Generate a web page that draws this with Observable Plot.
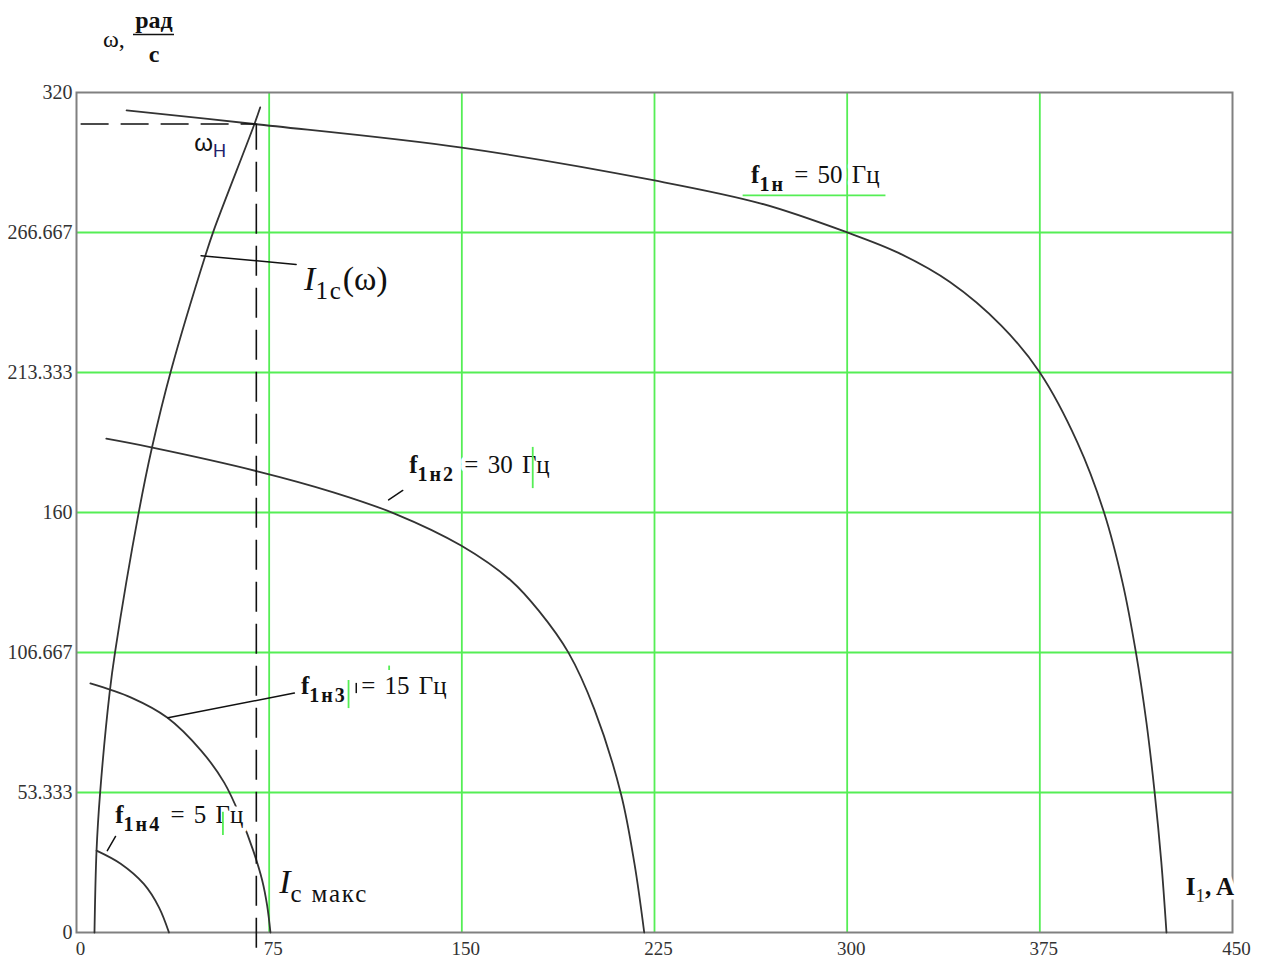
<!DOCTYPE html>
<html>
<head>
<meta charset="utf-8">
<script src="https://cdn.jsdelivr.net/npm/d3@7"></script>
<script src="https://cdn.jsdelivr.net/npm/@observablehq/plot@0.6"></script>
<style>
  body { margin: 0; background: #fff; }
  #chart svg { display: block; }
</style>
</head>
<body>
<div id="chart"></div>
<script>
// Mechanical characteristics ω(I1) of the frequency-controlled drive
// Points are [I1, A ; ω, rad/s]
const curve50 = [[19.5,313.2],[69.2,308.0],[150,299.0],[225,286.5],[266.5,277.7],[300,266.7],[320,258.9],[340,247.8],[360,231.2],[375,213.3],[389.6,186.7],[400,160],[407.2,133.3],[412.4,106.7],[416.5,80.0],[419.7,53.3],[422.3,26.7],[424.3,0]];
const curve30 = [[11.6,188.1],[29.1,184.8],[70.4,175.7],[100,167.7],[123.8,159.6],[149.7,147.4],[169.2,134.0],[180,122.5],[191.5,106.6],[201.6,85.0],[212,52.6],[217.2,26.2],[221.0,0]];
const curve15 = [[5.4,94.9],[21.3,89.5],[35.3,81.9],[48.5,69.3],[57.5,57.1],[64.1,43.4],[68.8,31.2],[72.3,19.8],[74.2,10.3],[75.5,0]];
const curve5  = [[7.8,31.2],[17.2,26.2],[26.2,18.5],[32.1,9.6],[36.0,0]];
// load current I1c(ω)
const currentCurve = [[7.0,0],[7.8,31.2],[9.2,53.3],[12.9,91.4],[15.0,106.7],[24.3,160.4],[29.3,184.4],[36.8,214.1],[50.3,258.3],[53.4,267.4],[69.2,307.8],[71.5,314.3]];

const omegaNom = 308;    // ωн
const currentMax = 70;   // Iс макс

const xTicks = [0, 75, 150, 225, 300, 375, 450];
const yTicks = [0, 160/3, 320/3, 160, 640/3, 800/3, 320];
const yTickLabels = ["0", "53.333", "106.667", "160", "213.333", "266.667", "320"];

// leader lines from the captions to their curves
const leaders = [
  {id: "I1c", pts: [[48.5,257.8],[85.5,254.5]]},
  {id: "f30", pts: [[121.5,164.8],[127.0,168.4]]},
  {id: "f15", pts: [[35.6,81.8],[84.8,91.2]]},
  {id: "f5",  pts: [[12.0,31.2],[15.2,36.6]]}
];

// captions: text runs ["text", flags] — b bold, i italic, s subscript
const freqCaptions = [
  {I: 262.6, w: 285.7, runs: [["f","b"],["1н","bs"],[" = 50 Гц",""]]},
  {I: 129.5, w: 174.9, runs: [["f","b"],["1н2","bs"],[" = 30 Гц",""]]},
  {I: 87.4,  w: 91.0,  runs: [["f","b"],["1н3","bs"],[" \u2009= 15 Гц",""]]},
  {I: 15.1,  w: 41.9,  runs: [["f","b"],["1н4","bs"],[" = 5 Гц",""]]}
];
const bigCaptions = [
  {I: 88.6, w: 244.6, runs: [["I","i"],["1с","s"],["(ω)",""]]},
  {I: 78.9, w: 15.2,  runs: [["I","i"],["с макс","s"]]}
];
const nomCaption = [{I: 45.8, w: 297.9, runs: [["ω",""],["Н","s"]]}];
const axisCaption = [{I: 431.8, w: 14.1, runs: [["I","b"],["1","s"],[", A","b"]]}];

// green edit marks around the frequency captions
const greenBars = [[177.6,184.8,169.1],[105.9,96.0,85.3],[57.0,45.8,37.0],[121.7,101.5,99.8]];
const greenUnderline = [{w: 280.8, I1: 259.5, I2: 315.1}];
const blackBars = [[108.9,94.9,91.0]];

const serif = "'Liberation Serif', 'Times New Roman', serif";
const sans = "'Liberation Sans', Arial, sans-serif";
const green = "#55ee55";

const toRows = (pts, key) => pts.map(([I, w]) => ({I, w, key}));
const curveRows = [
  ...toRows(curve50, "50"), ...toRows(curve30, "30"), ...toRows(curve15, "15"),
  ...toRows(curve5, "5"), ...toRows(currentCurve, "I1c")
];
const leaderRows = leaders.flatMap(l => toRows(l.pts, l.id));
const plain = d => d.runs.map(r => r[0]).join("");

const captionOpts = (font, size) => ({
  x: "I", y: "w", text: plain, textAnchor: "start", lineAnchor: "bottom",
  fontFamily: font, fontSize: size, fill: "#111"
});

const chart = Plot.plot({
  width: 1268,
  height: 960,
  marginLeft: 76,
  marginRight: 36,
  marginTop: 92,
  marginBottom: 28,
  style: {fontFamily: serif, background: "#fff"},
  x: {domain: [0, 450]},
  y: {domain: [0, 320]},
  marks: [
    Plot.gridX(xTicks.slice(1, -1), {stroke: green, strokeOpacity: 1, strokeWidth: 1.8}),
    Plot.gridY(yTicks.slice(1, -1), {stroke: green, strokeOpacity: 1, strokeWidth: 1.8}),
    Plot.frame({stroke: "#808080", strokeWidth: 2}),
    Plot.line(curveRows, {x: "I", y: "w", z: "key", curve: "catmull-rom", stroke: "#333", strokeWidth: 1.8}),
    Plot.ruleY([omegaNom], {x1: 1.8, x2: currentMax, stroke: "#111", strokeWidth: 1.6, strokeDasharray: "28,12"}),
    Plot.ruleX([currentMax], {y1: -6, y2: omegaNom, stroke: "#111", strokeWidth: 1.6, strokeDasharray: "30,12"}),
    Plot.line(leaderRows, {x: "I", y: "w", z: "key", stroke: "#111", strokeWidth: 1.5}),
    Plot.text(freqCaptions, captionOpts(serif, 25)),
    Plot.text(bigCaptions, captionOpts(serif, 34)),
    Plot.text(nomCaption, captionOpts(sans, 24)),
    Plot.text(axisCaption, captionOpts(serif, 25)),
    Plot.ruleX(greenBars, {x: d => d[0], y1: d => d[1], y2: d => d[2], stroke: green, strokeWidth: 1.8}),
    Plot.ruleY(greenUnderline, {y: "w", x1: "I1", x2: "I2", stroke: green, strokeWidth: 1.8}),
    Plot.ruleX(blackBars, {x: d => d[0], y1: d => d[1], y2: d => d[2], stroke: "#111", strokeWidth: 1.5}),
    Plot.axisX({ticks: xTicks, tickSize: 0, tickPadding: 9, dx: 4, fontSize: 19, fill: "#333", label: null}),
    Plot.axisY({ticks: yTicks, tickFormat: d => yTickLabels[yTicks.indexOf(d)], tickSize: 0, tickPadding: 4, fontSize: 20, fill: "#333", label: null})
  ]
});

document.getElementById("chart").append(chart);

// rich text: rebuild captions with bold / italic / subscript runs,
// each on a white knock-out copy so curves and grid stop short of the text
function applyRuns(data, subSize, subShift, extra = {}) {
  const texts = Array.from(chart.querySelectorAll("text"));
  for (const d of data) {
    const node = texts.find(t => t.textContent === plain(d));
    if (!node) continue;
    const el = d3.select(node).text("").style("white-space", "pre");
    if (extra.wordSpacing) el.attr("word-spacing", extra.wordSpacing);
    let shift = 0;
    for (const [t, k] of d.runs) {
      const ts = el.append("tspan").text(t);
      const sub = k.includes("s");
      const target = sub ? subShift : 0;
      if (target !== shift) ts.attr("dy", target - shift);
      shift = target;
      if (sub) ts.style("font-size", `${subSize}px`);
      if (k.includes("b")) ts.attr("font-weight", "bold");
      if (k.includes("i")) ts.attr("font-style", "italic");
      if (sub && extra.subFill) ts.attr("fill", extra.subFill);
      if (sub && extra.subSpacing) ts.attr("letter-spacing", extra.subSpacing);
    }
    const halo = node.cloneNode(true);
    d3.select(halo).attr("fill", "white").attr("stroke", "white")
      .attr("stroke-width", 9).attr("stroke-linejoin", "round")
      .selectAll("tspan").attr("fill", "white");
    node.parentNode.insertBefore(halo, node);
  }
}
applyRuns(freqCaptions, 20, 8, {subSpacing: 2, wordSpacing: 3});
applyRuns(bigCaptions, 25, 9, {subSpacing: 1.8});
applyRuns(nomCaption, 18, 6, {subFill: "#22226a"});
applyRuns(axisCaption, 19, 7, {subFill: "#3a3020"});

// vertical axis title ω, рад/с in the top margin
const title = d3.select(chart).append("g")
  .attr("font-family", serif).attr("fill", "#111").attr("text-anchor", "middle");
title.append("text").attr("x", 103).attr("y", 47).attr("text-anchor", "start")
  .attr("font-size", 24).text("ω,");
title.append("text").attr("x", 154).attr("y", 28)
  .attr("font-size", 24).attr("font-weight", "bold").text("рад");
title.append("line").attr("x1", 133).attr("x2", 174).attr("y1", 34.5).attr("y2", 34.5)
  .attr("stroke", "#111").attr("stroke-width", 1.5);
title.append("text").attr("x", 154).attr("y", 62)
  .attr("font-size", 24).attr("font-weight", "bold").text("с");
</script>
</body>
</html>
